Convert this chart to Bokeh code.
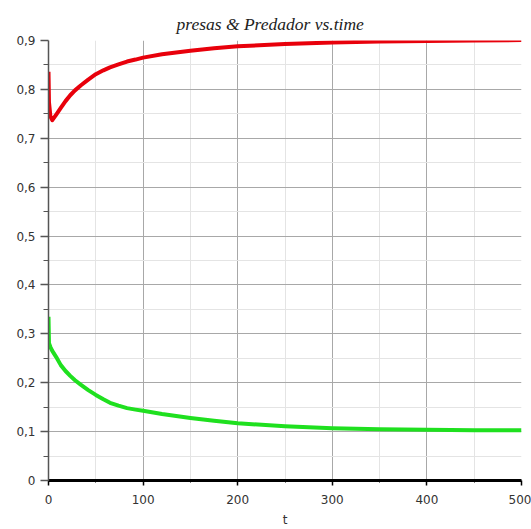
from bokeh.plotting import figure
from bokeh.models import FixedTicker, CustomJSTickFormatter, Range1d
from bokeh.embed import file_html
from bokeh.resources import INLINE

# Time samples and the two populations
t = [0, 0.5, 2, 4, 8, 13, 18, 23, 28, 34, 42, 50, 58, 65, 74, 83, 92, 100,
     120, 150, 175, 200, 250, 300, 350, 400, 450, 500]
predador = [0.836, 0.774, 0.745, 0.737, 0.748, 0.762, 0.776, 0.788, 0.798, 0.808,
            0.820, 0.831, 0.839, 0.845, 0.851, 0.857, 0.861, 0.865, 0.872, 0.879,
            0.884, 0.888, 0.893, 0.896, 0.898, 0.899, 0.900, 0.901]
presas = [0.335, 0.281, 0.273, 0.265, 0.253, 0.236, 0.224, 0.214, 0.205, 0.196,
          0.185, 0.175, 0.166, 0.159, 0.153, 0.148, 0.145, 0.1425, 0.136, 0.128,
          0.122, 0.117, 0.111, 0.107, 0.105, 0.104, 0.103, 0.103]

x_ticks = [0, 100, 200, 300, 400, 500]
x_minor = [50, 150, 250, 350, 450]
y_ticks = [0, 0.1, 0.2, 0.3, 0.4, 0.5, 0.6, 0.7, 0.8, 0.9]
y_minor = [0.05, 0.15, 0.25, 0.35, 0.45, 0.55, 0.65, 0.75, 0.85]
y_labels = ["0", "0,1", "0,2", "0,3", "0,4", "0,5", "0,6", "0,7", "0,8", "0,9"]

p = figure(width=531, height=529, output_backend="svg", toolbar_location=None,
           x_range=Range1d(0, 500), y_range=Range1d(0, 0.9),
           min_border_left=48, min_border_right=10, min_border_top=40,
           min_border_bottom=48, title="presas & Predador vs.time")

p.outline_line_color = None
p.background_fill_color = "white"
p.border_fill_color = "white"

# title sits centred on the whole page, not on the plot frame
p.title.align = "left"
p.title.offset = 128
p.title.standoff = 14
p.title.text_font = "Liberation Serif"
p.title.text_font_style = "italic"
p.title.text_font_size = "17.5px"
p.title.text_color = "#222222"

p.xaxis.ticker = FixedTicker(ticks=x_ticks, minor_ticks=x_minor)
p.yaxis.ticker = FixedTicker(ticks=y_ticks, minor_ticks=y_minor)
p.yaxis.formatter = CustomJSTickFormatter(args=dict(labels=y_labels),
                                          code="return labels[Math.round(tick * 10)];")

# grid: darker major lines, faint minor lines
for g in (p.xgrid, p.ygrid):
    g.grid_line_color = "#a8a8a8"
    g.grid_line_width = 1
    g.minor_grid_line_color = "#e4e4e4"
    g.minor_grid_line_width = 1

p.xaxis.axis_label = "t"
p.xaxis.axis_label_text_font = "DejaVu Sans"
p.xaxis.axis_label_text_font_style = "normal"
p.xaxis.axis_label_text_font_size = "12px"
p.xaxis.axis_label_text_color = "#333333"
p.xaxis.axis_label_standoff = 6
p.xaxis.axis_line_color = "black"
p.xaxis.axis_line_width = 3
p.xaxis.major_tick_line_color = "black"
p.xaxis.major_tick_line_width = 1.5
p.xaxis.major_tick_out = 5
p.xaxis.major_tick_in = 0
p.xaxis.minor_tick_line_color = "black"
p.xaxis.minor_tick_out = 2
p.xaxis.minor_tick_in = 0
p.xaxis.major_label_standoff = 9

p.yaxis.axis_line_color = "#555555"
p.yaxis.axis_line_width = 1.5
p.yaxis.major_tick_line_color = "#555555"
p.yaxis.major_tick_line_width = 1.5
p.yaxis.major_tick_out = 8
p.yaxis.major_tick_in = 0
p.yaxis.minor_tick_line_color = "#555555"
p.yaxis.minor_tick_out = 5
p.yaxis.minor_tick_in = 0
p.yaxis.major_label_standoff = 5

for ax in (p.xaxis, p.yaxis):
    ax.major_label_text_font = "DejaVu Sans"
    ax.major_label_text_font_size = "12px"
    ax.major_label_text_color = "#333333"

p.line(t, predador, line_color="#e8000b", line_width=4, line_join="round")
p.line(t, presas, line_color="#1fe01f", line_width=4, line_join="round")

open("out.html", "w").write(file_html(p, INLINE))
